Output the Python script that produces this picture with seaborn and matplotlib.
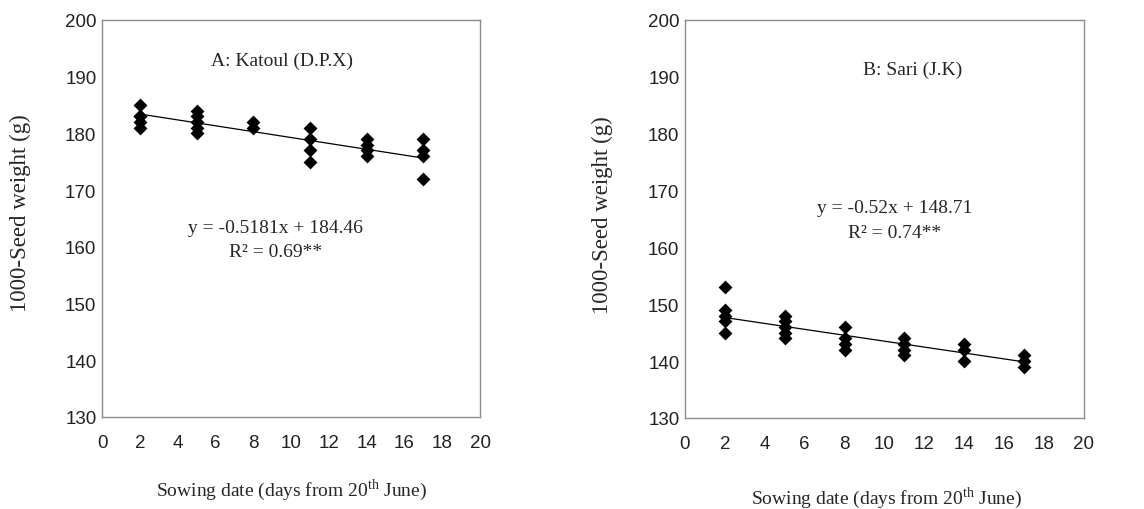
import numpy as np
import pandas as pd
import matplotlib
matplotlib.use("Agg")
import matplotlib.pyplot as plt
import seaborn as sns

# A: Katoul (D.P.X)
katoul_days = [2, 2, 2, 2, 2,
               5, 5, 5, 5, 5,
               8, 8,
               11, 11, 11, 11,
               14, 14, 14, 14,
               17, 17, 17, 17]
katoul_weight = [185, 183, 183, 182, 181,
                 184, 183, 182, 181, 180,
                 182, 181,
                 181, 179, 177, 175,
                 179, 178, 177, 176,
                 179, 177, 176, 172]
katoul_slope, katoul_intercept = -0.5181, 184.46

# B: Sari (J.K)
sari_days = [2, 2, 2, 2, 2,
             5, 5, 5, 5, 5,
             8, 8, 8, 8,
             11, 11, 11, 11,
             14, 14, 14,
             17, 17, 17]
sari_weight = [153, 149, 148, 147, 145,
               148, 147, 146, 145, 144,
               146, 144, 143, 142,
               144, 143, 142, 141,
               143, 142, 140,
               141, 140, 139]
sari_slope, sari_intercept = -0.52, 148.71

sns.set_theme(style="white")
plt.rcParams["font.family"] = ["Liberation Serif", "DejaVu Serif"]
plt.rcParams["mathtext.fontset"] = "custom"
plt.rcParams["mathtext.rm"] = "Liberation Serif"

fig = plt.figure(figsize=(11.44, 5.10), dpi=100)
W, H = 1144, 510
ax1 = fig.add_axes([102 / W, 1 - 418 / H, (480 - 102) / W, (418 - 21) / H])
ax2 = fig.add_axes([685 / W, 1 - 419 / H, (1084 - 685) / W, (419 - 21) / H])

panels = [
    (ax1, katoul_days, katoul_weight, katoul_slope, katoul_intercept,
     "A: Katoul (D.P.X)", (9.5, 192.8),
     "y = -0.5181x + 184.46", (9.2, 163.5), "R² = 0.69**", (9.2, 159.2), (20, 213)),
    (ax2, sari_days, sari_weight, sari_slope, sari_intercept,
     "B: Sari (J.K)", (11.4, 191.4),
     "y = -0.52x + 148.71", (10.5, 167.1), "R² = 0.74**", (10.5, 162.6), (602, 215)),
]

for ax, days, weight, slope, intercept, title, tpos, eq, epos, r2, rpos, ylpos in panels:
    df = pd.DataFrame({"days": days, "weight": weight})
    xfit = np.array([min(days), max(days)])
    ax.plot(xfit, slope * xfit + intercept, color="black", lw=0.9, zorder=2)
    sns.scatterplot(data=df, x="days", y="weight", ax=ax, marker="D",
                    s=50, color="black", edgecolor="black", linewidth=0, zorder=3)

    ax.set_xlim(0, 20)
    ax.set_ylim(130, 200)
    ax.set_xticks(range(0, 21, 2))
    ax.set_yticks(range(130, 201, 10))
    for lab in ax.get_xticklabels() + ax.get_yticklabels():
        lab.set_family("Liberation Sans")
        lab.set_fontsize(13.5)
        lab.set_color("#222222")
    ax.tick_params(axis="x", length=0, pad=12)
    ax.tick_params(axis="y", length=0, pad=4)

    for sp in ax.spines.values():
        sp.set_color("#8c8c8c")
        sp.set_linewidth(1.0)

    ax.set_xlabel("")
    ax.set_ylabel("1000-Seed weight (g)", fontsize=16.5)
    ax.yaxis.set_label_coords(ylpos[0] / W, 1 - ylpos[1] / H, transform=fig.transFigure)
    ax.yaxis.label.set_va("center")

    ax.text(tpos[0], tpos[1], title, ha="center", va="center", fontsize=14)
    ax.text(epos[0], epos[1], eq, ha="center", va="center", fontsize=14)
    ax.text(rpos[0], rpos[1], r2, ha="center", va="center", fontsize=14)

fig.text(291 / W, 1 - 490 / H, r"Sowing date (days from 20$^{\mathrm{th}}$ June)",
         ha="center", va="center", fontsize=14)
fig.text(886 / W, 1 - 498 / H, r"Sowing date (days from 20$^{\mathrm{th}}$ June)",
         ha="center", va="center", fontsize=14)

fig.savefig("out.png", dpi=100, facecolor="white")
